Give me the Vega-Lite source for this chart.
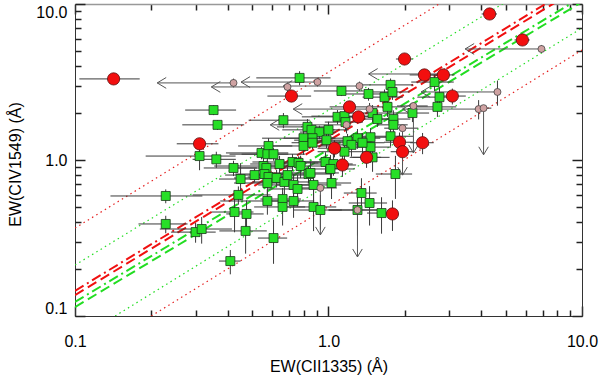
{
  "$schema": "https://vega.github.io/schema/vega-lite/v6.json",
  "width": 507,
  "height": 312,
  "autosize": "none",
  "padding": {"left": 75, "top": 4, "right": 18, "bottom": 61},
  "background": "white",
  "config": {"view": {"stroke": null}},
  "datasets": {
    "pts": [
      {"t":"g","x":0.352,"y":2.09,"xl":0.272,"xh":0.432,"yl":1.94,"yh":2.24},
      {"t":"g","x":0.365,"y":1.68,"xl":0.265,"xh":0.465,"yl":1.56,"yh":1.8},
      {"t":"g","x":0.31,"y":1.06,"xl":0.19,"xh":0.43,"yl":0.86,"yh":1.26},
      {"t":"g","x":0.361,"y":1.01,"xl":0.291,"xh":0.431,"yl":0.89,"yh":1.13},
      {"t":"g","x":0.422,"y":0.889,"xl":0.322,"xh":0.522,"yl":0.789,"yh":0.989},
      {"t":"g","x":0.45,"y":0.755,"xl":0.37,"xh":0.53,"yl":0.555,"yh":0.955},
      {"t":"g","x":0.511,"y":0.801,"xl":0.391,"xh":0.631,"yl":0.721,"yh":0.881},
      {"t":"g","x":0.664,"y":1.8,"xl":0.484,"xh":0.844,"yl":1.6,"yh":2.0},
      {"t":"g","x":0.769,"y":3.36,"xl":0.519,"xh":1.019,"yl":3.01,"yh":3.71},
      {"t":"g","x":0.544,"y":1.11,"xl":0.394,"xh":0.694,"yl":1.01,"yh":1.21},
      {"t":"g","x":0.58,"y":1.23,"xl":0.44,"xh":0.72,"yl":1.08,"yh":1.38},
      {"t":"g","x":0.574,"y":1.09,"xl":0.454,"xh":0.694,"yl":0.97,"yh":1.21},
      {"t":"g","x":0.607,"y":1.09,"xl":0.407,"xh":0.807,"yl":0.99,"yh":1.19},
      {"t":"g","x":0.554,"y":0.915,"xl":0.354,"xh":0.754,"yl":0.765,"yh":1.065},
      {"t":"g","x":0.569,"y":0.889,"xl":0.419,"xh":0.719,"yl":0.789,"yh":0.989},
      {"t":"g","x":0.559,"y":0.813,"xl":0.429,"xh":0.689,"yl":0.693,"yh":0.933},
      {"t":"g","x":0.58,"y":0.778,"xl":0.48,"xh":0.68,"yl":0.678,"yh":0.878},
      {"t":"g","x":0.574,"y":0.712,"xl":0.424,"xh":0.724,"yl":0.562,"yh":0.862},
      {"t":"g","x":0.624,"y":0.767,"xl":0.424,"xh":0.824,"yl":0.667,"yh":0.867},
      {"t":"g","x":0.641,"y":0.943,"xl":0.491,"xh":0.791,"yl":0.823,"yh":1.063},
      {"t":"g","x":0.67,"y":0.723,"xl":0.5,"xh":0.84,"yl":0.603,"yh":0.843},
      {"t":"g","x":0.689,"y":0.801,"xl":0.489,"xh":0.889,"yl":0.701,"yh":0.901},
      {"t":"g","x":0.728,"y":0.692,"xl":0.528,"xh":0.928,"yl":0.572,"yh":0.812},
      {"t":"g","x":0.755,"y":0.652,"xl":0.575,"xh":0.935,"yl":0.502,"yh":0.802},
      {"t":"g","x":0.721,"y":0.971,"xl":0.501,"xh":0.941,"yl":0.851,"yh":1.091},
      {"t":"g","x":0.762,"y":0.957,"xl":0.612,"xh":0.912,"yl":0.857,"yh":1.057},
      {"t":"g","x":0.776,"y":0.915,"xl":0.576,"xh":0.976,"yl":0.765,"yh":1.065},
      {"t":"g","x":0.834,"y":0.813,"xl":0.634,"xh":1.034,"yl":0.713,"yh":0.913},
      {"t":"g","x":0.873,"y":0.692,"xl":0.623,"xh":1.123,"yl":0.542,"yh":0.842},
      {"t":"g","x":0.873,"y":0.5,"xl":0.673,"xh":1.073,"yl":0.35,"yh":0.65},
      {"t":"g","x":0.929,"y":0.478,"xl":0.729,"xh":1.129,"yl":0.358,"yh":0.598},
      {"t":"g","x":0.728,"y":0.546,"xl":0.578,"xh":0.878,"yl":0.426,"yh":0.666},
      {"t":"g","x":0.659,"y":0.562,"xl":0.539,"xh":0.779,"yl":0.462,"yh":0.662},
      {"t":"g","x":0.659,"y":0.5,"xl":0.509,"xh":0.809,"yl":0.38,"yh":0.62},
      {"t":"g","x":0.574,"y":0.546,"xl":0.374,"xh":0.774,"yl":0.446,"yh":0.646},
      {"t":"g","x":0.441,"y":0.597,"xl":0.291,"xh":0.591,"yl":0.517,"yh":0.677},
      {"t":"g","x":0.475,"y":0.451,"xl":0.395,"xh":0.555,"yl":0.351,"yh":0.551},
      {"t":"g","x":0.426,"y":0.464,"xl":0.346,"xh":0.506,"yl":0.344,"yh":0.584},
      {"t":"g","x":0.471,"y":0.351,"xl":0.371,"xh":0.571,"yl":0.251,"yh":0.451},
      {"t":"g","x":0.299,"y":0.345,"xl":0.239,"xh":0.359,"yl":0.295,"yh":0.395},
      {"t":"g","x":0.316,"y":0.361,"xl":0.216,"xh":0.416,"yl":0.291,"yh":0.431},
      {"t":"g","x":0.607,"y":0.316,"xl":0.527,"xh":0.687,"yl":0.216,"yh":0.416},
      {"t":"g","x":0.41,"y":0.225,"xl":0.37,"xh":0.45,"yl":0.185,"yh":0.265},
      {"t":"g","x":0.228,"y":0.588,"xl":0.138,"xh":0.318,"yl":0.528,"yh":0.648},
      {"t":"g","x":0.228,"y":0.389,"xl":0.178,"xh":0.278,"yl":0.339,"yh":0.439},
      {"t":"g","x":0.826,"y":1.63,"xl":0.626,"xh":1.026,"yl":1.43,"yh":1.83},
      {"t":"g","x":0.857,"y":1.56,"xl":0.657,"xh":1.057,"yl":1.41,"yh":1.71},
      {"t":"g","x":0.921,"y":1.51,"xl":0.771,"xh":1.071,"yl":1.36,"yh":1.66},
      {"t":"g","x":1.0,"y":1.56,"xl":0.8,"xh":1.2,"yl":1.36,"yh":1.76},
      {"t":"g","x":0.797,"y":1.38,"xl":0.547,"xh":1.047,"yl":1.23,"yh":1.53},
      {"t":"g","x":0.865,"y":1.38,"xl":0.665,"xh":1.065,"yl":1.18,"yh":1.58},
      {"t":"g","x":0.982,"y":1.34,"xl":0.732,"xh":1.232,"yl":1.19,"yh":1.49},
      {"t":"g","x":0.797,"y":1.23,"xl":0.597,"xh":0.997,"yl":1.08,"yh":1.38},
      {"t":"g","x":0.865,"y":1.29,"xl":0.715,"xh":1.015,"yl":1.17,"yh":1.41},
      {"t":"g","x":1.125,"y":2.77,"xl":0.875,"xh":1.375,"yl":2.57,"yh":2.97},
      {"t":"g","x":1.438,"y":2.65,"xl":1.138,"xh":1.738,"yl":2.4,"yh":2.9},
      {"t":"g","x":1.663,"y":2.53,"xl":1.363,"xh":1.963,"yl":2.23,"yh":2.83},
      {"t":"g","x":1.709,"y":2.19,"xl":1.409,"xh":2.009,"yl":1.89,"yh":2.49},
      {"t":"g","x":1.492,"y":2.0,"xl":1.192,"xh":1.792,"yl":1.75,"yh":2.25},
      {"t":"g","x":2.144,"y":2.0,"xl":1.794,"xh":2.494,"yl":1.75,"yh":2.25},
      {"t":"g","x":1.803,"y":1.83,"xl":1.503,"xh":2.103,"yl":1.58,"yh":2.08},
      {"t":"g","x":1.803,"y":1.68,"xl":1.553,"xh":2.053,"yl":1.48,"yh":1.88},
      {"t":"g","x":1.085,"y":1.89,"xl":0.785,"xh":1.385,"yl":1.69,"yh":2.09},
      {"t":"g","x":1.156,"y":1.91,"xl":0.856,"xh":1.456,"yl":1.66,"yh":2.16},
      {"t":"g","x":1.167,"y":1.75,"xl":0.967,"xh":1.367,"yl":1.55,"yh":1.95},
      {"t":"g","x":1.56,"y":1.83,"xl":1.26,"xh":1.86,"yl":1.63,"yh":2.03},
      {"t":"g","x":1.757,"y":1.42,"xl":1.357,"xh":2.157,"yl":1.22,"yh":1.62},
      {"t":"g","x":1.465,"y":1.4,"xl":1.165,"xh":1.765,"yl":1.2,"yh":1.6},
      {"t":"g","x":1.189,"y":1.32,"xl":0.889,"xh":1.489,"yl":1.17,"yh":1.47},
      {"t":"g","x":1.301,"y":1.38,"xl":1.001,"xh":1.601,"yl":1.18,"yh":1.58},
      {"t":"g","x":1.465,"y":1.21,"xl":1.165,"xh":1.765,"yl":0.96,"yh":1.46},
      {"t":"g","x":1.492,"y":1.04,"xl":1.242,"xh":1.742,"yl":0.84,"yh":1.24},
      {"t":"g","x":1.232,"y":1.25,"xl":0.932,"xh":1.532,"yl":1.05,"yh":1.45},
      {"t":"g","x":1.362,"y":1.29,"xl":1.062,"xh":1.662,"yl":1.09,"yh":1.49},
      {"t":"g","x":1.757,"y":3.03,"xl":1.357,"xh":2.157,"yl":2.73,"yh":3.33},
      {"t":"g","x":1.788,"y":2.73,"xl":1.488,"xh":2.088,"yl":2.43,"yh":3.03},
      {"t":"g","x":2.62,"y":3.16,"xl":2.12,"xh":3.12,"yl":2.76,"yh":3.56},
      {"t":"g","x":2.74,"y":2.53,"xl":2.24,"xh":3.24,"yl":2.13,"yh":2.93},
      {"t":"g","x":2.69,"y":2.19,"xl":2.19,"xh":3.19,"yl":1.89,"yh":2.49},
      {"t":"g","x":0.973,"y":0.971,"xl":0.773,"xh":1.173,"yl":0.821,"yh":1.121},
      {"t":"g","x":1.046,"y":0.943,"xl":0.846,"xh":1.246,"yl":0.793,"yh":1.093},
      {"t":"g","x":1.018,"y":0.876,"xl":0.768,"xh":1.268,"yl":0.676,"yh":1.076},
      {"t":"g","x":1.028,"y":0.712,"xl":0.828,"xh":1.228,"yl":0.562,"yh":0.862},
      {"t":"g","x":0.849,"y":0.826,"xl":0.599,"xh":1.099,"yl":0.676,"yh":0.976},
      {"t":"g","x":1.349,"y":0.614,"xl":1.149,"xh":1.549,"yl":0.464,"yh":0.764},
      {"t":"g","x":1.452,"y":0.53,"xl":1.202,"xh":1.702,"yl":0.38,"yh":0.68},
      {"t":"g","x":1.619,"y":0.457,"xl":1.419,"xh":1.819,"yl":0.337,"yh":0.577},
      {"t":"g","x":1.837,"y":0.813,"xl":1.537,"xh":2.137,"yl":0.563,"yh":1.063},
      {"t":"g","x":1.156,"y":1.13,"xl":0.906,"xh":1.406,"yl":0.93,"yh":1.33},
      {"t":"g","x":1.301,"y":0.478,"xl":1.001,"xh":1.601,"yl":0.328,"yh":0.628},
      {"t":"r","x":0.142,"y":3.31,"xl":0.104,"xh":0.18,"yl":3.21,"yh":3.41},
      {"t":"r","x":0.31,"y":1.27,"xl":0.252,"xh":0.368,"yl":1.17,"yh":1.37},
      {"t":"r","x":0.714,"y":2.57,"xl":0.574,"xh":0.854,"yl":2.42,"yh":2.72},
      {"t":"r","x":4.32,"y":8.63,"xl":4.02,"xh":4.62,"yl":8.23,"yh":9.03},
      {"t":"r","x":5.82,"y":5.88,"xl":5.42,"xh":6.22,"yl":5.48,"yh":6.28},
      {"t":"r","x":1.995,"y":4.44,"xl":1.845,"xh":2.145,"yl":4.14,"yh":4.74},
      {"t":"r","x":2.39,"y":3.51,"xl":2.09,"xh":2.69,"yl":3.21,"yh":3.81},
      {"t":"r","x":2.84,"y":3.51,"xl":2.54,"xh":3.14,"yl":3.21,"yh":3.81},
      {"t":"r","x":3.08,"y":2.57,"xl":2.68,"xh":3.48,"yl":2.27,"yh":2.87},
      {"t":"r","x":1.21,"y":2.19,"xl":1.01,"xh":1.41,"yl":1.99,"yh":2.39},
      {"t":"r","x":1.313,"y":1.89,"xl":1.113,"xh":1.513,"yl":1.74,"yh":2.04},
      {"t":"r","x":1.056,"y":1.19,"xl":0.906,"xh":1.206,"yl":1.04,"yh":1.34},
      {"t":"r","x":1.135,"y":0.929,"xl":0.985,"xh":1.285,"yl":0.779,"yh":1.079},
      {"t":"r","x":1.413,"y":1.04,"xl":1.213,"xh":1.613,"yl":0.89,"yh":1.19},
      {"t":"r","x":1.906,"y":1.3,"xl":1.656,"xh":2.156,"yl":1.1,"yh":1.5},
      {"t":"r","x":1.959,"y":1.13,"xl":1.759,"xh":2.159,"yl":0.93,"yh":1.33},
      {"t":"r","x":2.35,"y":1.29,"xl":2.1,"xh":2.6,"yl":1.09,"yh":1.49},
      {"t":"r","x":1.788,"y":0.451,"xl":1.688,"xh":1.888,"yl":0.351,"yh":0.551}
    ],
    "lim": [
      {"dir":"l","x":0.422,"y":3.12,"a":0.211,"el":2.92,"eh":3.32},
      {"dir":"l","x":0.689,"y":2.94,"a":0.345,"el":2.74,"eh":3.14},
      {"dir":"l","x":0.905,"y":3.16,"a":0.452,"el":2.96,"eh":3.36},
      {"dir":"l","x":2.87,"y":3.56,"a":1.44,"el":3.26,"eh":3.86},
      {"dir":"l","x":4.64,"y":2.73,"a":2.32,"el":2.23,"eh":3.23},
      {"dir":"l","x":6.92,"y":5.15,"a":3.46,"el":4.85,"eh":5.45},
      {"dir":"l","x":1.452,"y":2.12,"a":0.726,"el":1.92,"eh":2.32},
      {"dir":"l","x":1.178,"y":1.68,"a":0.589,"el":1.48,"eh":1.88},
      {"dir":"l","x":3.91,"y":2.12,"a":1.96,"el":1.82,"eh":2.42},
      {"dir":"l","x":1.325,"y":2.98,"a":0.663,"el":2.78,"eh":3.18},
      {"dir":"d","x":2.163,"y":2.22,"a":1.11,"el":1.863,"eh":2.463},
      {"dir":"d","x":4.09,"y":2.15,"a":1.08,"el":3.79,"eh":4.39},
      {"dir":"d","x":0.929,"y":0.662,"a":0.331,"el":0.779,"eh":1.079},
      {"dir":"d","x":1.301,"y":0.478,"a":0.239,"el":1.001,"eh":1.601},
      {"dir":"d","x":1.959,"y":1.6,"a":0.8,"el":1.659,"eh":2.259}
    ],
    "ln": [
      {"id":"r1","x":0.1,"y":0.145},{"id":"r1","x":10,"y":13.9},
      {"id":"r2","x":0.1,"y":0.136},{"id":"r2","x":10,"y":13.0},
      {"id":"g1","x":0.1,"y":0.123},{"id":"g1","x":10,"y":11.1},
      {"id":"g2","x":0.1,"y":0.114},{"id":"g2","x":10,"y":10.3},
      {"id":"ru","x":0.1,"y":0.366},{"id":"ru","x":10,"y":36.6},
      {"id":"rl","x":0.2,"y":0.1},{"id":"rl","x":10,"y":5.07},
      {"id":"gu","x":0.1,"y":0.212},{"id":"gu","x":10,"y":20.5},
      {"id":"gl","x":0.144,"y":0.1},{"id":"gl","x":10,"y":7.02}
    ]
  },
  "resolve": {"axis": {"x":"independent","y":"independent"}},
  "layer": [
    {
      "data": {"name":"ln"},
      "transform": [{"filter":"datum.id=='r1'"}],
      "mark": {"type":"line","color":"#f01010","strokeWidth":2,"strokeDash":[10,4,2,4],"clip":true},
      "encoding": {
        "x": {"field":"x","type":"quantitative","scale":{"type":"log","domain":[0.1,10],"nice":false},
              "axis":{"orient":"bottom","values":[0.1,1,10],"format":".1f","ticks":false,"grid":false,"domain":true,"domainColor":"#333","domainWidth":1,
                      "labelFont":"Liberation Sans","labelFontSize":16,"labelColor":"#000","labelPadding":30,"labelBaseline":"alphabetic","labelFlush":false,"labelOverlap":false,
                      "title":"EW(CII1335) (Å)","titleFont":"Liberation Sans","titleFontSize":16,"titleFontWeight":"normal","titleColor":"#000","titleY":55,"titleBaseline":"alphabetic"}},
        "y": {"field":"y","type":"quantitative","scale":{"type":"log","domain":[0.1,10],"nice":false},
              "axis":{"orient":"left","values":[0.1,1,10],"format":".1f","ticks":false,"grid":false,"domain":true,"domainColor":"#333","domainWidth":1,
                      "labelFont":"Liberation Sans","labelFontSize":16,"labelColor":"#000","labelPadding":8,"labelFlush":true,"labelOverlap":false,
                      "title":"EW(CIV1549) (Å)","titleFont":"Liberation Sans","titleFontSize":16,"titleFontWeight":"normal","titleColor":"#000","titleX":-52,"titleY":160,"titleBaseline":"bottom","titleAlign":"center","titleAngle":270}}
      }
    },
    {
      "data": {"name":"ln"},
      "transform": [{"filter":"datum.id=='r2'"}],
      "mark": {"type":"line","color":"#f01010","strokeWidth":2,"strokeDash":[10,5],"clip":true},
      "encoding": {
        "x": {"field":"x","type":"quantitative","scale":{"type":"log","domain":[0.1,10],"nice":false},
              "axis":{"orient":"top","offset":-312,"values":[0.1,1,10],"labels":false,"domain":false,"title":null,"ticks":true,"tickColor":"#222","tickWidth":1.5,"tickSize":10}},
        "y": {"field":"y","type":"quantitative","scale":{"type":"log","domain":[0.1,10],"nice":false},
              "axis":{"orient":"right","offset":-507,"values":[0.1,1,10],"labels":false,"domain":false,"title":null,"ticks":true,"tickColor":"#222","tickWidth":1.5,"tickSize":10}}
      }
    },
    {
      "data": {"name":"ln"},
      "transform": [{"filter":"datum.id=='g1'"}],
      "mark": {"type":"line","color":"#22dd22","strokeWidth":2,"strokeDash":[10,4,2,4],"clip":true},
      "encoding": {
        "x": {"field":"x","type":"quantitative","scale":{"type":"log","domain":[0.1,10],"nice":false},
              "axis":{"orient":"top","offset":-312,"values":[0.2,0.3,0.4,0.5,0.6,0.7,0.8,0.9,2,3,4,5,6,7,8,9],"labels":false,"domain":false,"title":null,"ticks":true,"tickColor":"#222","tickWidth":1.5,"tickSize":6}},
        "y": {"field":"y","type":"quantitative","scale":{"type":"log","domain":[0.1,10],"nice":false},
              "axis":{"orient":"right","offset":-507,"values":[0.2,0.3,0.4,0.5,0.6,0.7,0.8,0.9,2,3,4,5,6,7,8,9],"labels":false,"domain":false,"title":null,"ticks":true,"tickColor":"#222","tickWidth":1.5,"tickSize":6}}
      }
    },
    {
      "data": {"name":"ln"},
      "transform": [{"filter":"datum.id=='g2'"}],
      "mark": {"type":"line","color":"#22dd22","strokeWidth":2,"strokeDash":[10,5],"clip":true},
      "encoding": {
        "x": {"field":"x","type":"quantitative","scale":{"type":"log","domain":[0.1,10],"nice":false},
              "axis":{"orient":"bottom","offset":-312,"values":[0.1,1,10],"labels":false,"domain":false,"title":null,"ticks":true,"tickColor":"#222","tickWidth":1.5,"tickSize":10}},
        "y": {"field":"y","type":"quantitative","scale":{"type":"log","domain":[0.1,10],"nice":false},
              "axis":{"orient":"left","offset":-507,"values":[0.1,1,10],"labels":false,"domain":false,"title":null,"ticks":true,"tickColor":"#222","tickWidth":1.5,"tickSize":10}}
      }
    },
    {
      "data": {"name":"ln"},
      "transform": [{"filter":"datum.id=='ru'"}],
      "mark": {"type":"line","color":"#e52020","strokeWidth":1.2,"strokeDash":[1.5,3.5],"clip":true},
      "encoding": {
        "x": {"field":"x","type":"quantitative","scale":{"type":"log","domain":[0.1,10],"nice":false},
              "axis":{"orient":"bottom","offset":-312,"values":[0.2,0.3,0.4,0.5,0.6,0.7,0.8,0.9,2,3,4,5,6,7,8,9],"labels":false,"domain":false,"title":null,"ticks":true,"tickColor":"#222","tickWidth":1.5,"tickSize":6}},
        "y": {"field":"y","type":"quantitative","scale":{"type":"log","domain":[0.1,10],"nice":false},
              "axis":{"orient":"left","offset":-507,"values":[0.2,0.3,0.4,0.5,0.6,0.7,0.8,0.9,2,3,4,5,6,7,8,9],"labels":false,"domain":false,"title":null,"ticks":true,"tickColor":"#222","tickWidth":1.5,"tickSize":6}}
      }
    },
    {
      "data": {"name":"ln"},
      "transform": [{"filter":"datum.id=='rl'"}],
      "mark": {"type":"line","color":"#e52020","strokeWidth":1.2,"strokeDash":[1.5,3.5],"clip":true},
      "encoding": {
        "x": {"field":"x","type":"quantitative","scale":{"type":"log","domain":[0.1,10],"nice":false},
              "axis":{"orient":"top","values":[0.1,10],"labels":false,"ticks":false,"domain":true,"domainColor":"#999","domainWidth":1.5,"title":null}},
        "y": {"field":"y","type":"quantitative","scale":{"type":"log","domain":[0.1,10],"nice":false},
              "axis":{"orient":"right","values":[0.1,10],"labels":false,"ticks":false,"domain":true,"domainColor":"#333","domainWidth":1,"title":null}}
      }
    },
    {
      "data": {"name":"ln"},
      "transform": [{"filter":"datum.id=='gu'"}],
      "mark": {"type":"line","color":"#22dd22","strokeWidth":1.2,"strokeDash":[1.5,3.5],"clip":true},
      "encoding": {
        "x": {"field":"x","type":"quantitative","scale":{"type":"log","domain":[0.1,10],"nice":false},"axis":null},
        "y": {"field":"y","type":"quantitative","scale":{"type":"log","domain":[0.1,10],"nice":false},"axis":null}
      }
    },
    {
      "data": {"name":"ln"},
      "transform": [{"filter":"datum.id=='gl'"}],
      "mark": {"type":"line","color":"#22dd22","strokeWidth":1.2,"strokeDash":[1.5,3.5],"clip":true},
      "encoding": {
        "x": {"field":"x","type":"quantitative","scale":{"type":"log","domain":[0.1,10],"nice":false},"axis":null},
        "y": {"field":"y","type":"quantitative","scale":{"type":"log","domain":[0.1,10],"nice":false},"axis":null}
      }
    },
    {
      "data": {"name":"pts"},
      "mark": {"type":"rule","color":"#3a3a3a","strokeWidth":1},
      "encoding": {
        "x": {"field":"xl","type":"quantitative","scale":{"type":"log","domain":[0.1,10],"nice":false},"axis":null},
        "x2": {"field":"xh"},
        "y": {"field":"y","type":"quantitative","scale":{"type":"log","domain":[0.1,10],"nice":false},"axis":null}
      }
    },
    {
      "data": {"name":"pts"},
      "mark": {"type":"rule","color":"#3a3a3a","strokeWidth":1},
      "encoding": {
        "x": {"field":"x","type":"quantitative","scale":{"type":"log","domain":[0.1,10],"nice":false},"axis":null},
        "y": {"field":"yl","type":"quantitative","scale":{"type":"log","domain":[0.1,10],"nice":false},"axis":null},
        "y2": {"field":"yh"}
      }
    },
    {
      "data": {"name":"lim"},
      "transform": [{"filter":"datum.dir=='l'"}],
      "mark": {"type":"rule","color":"#3a3a3a","strokeWidth":1},
      "encoding": {
        "x": {"field":"x","type":"quantitative","scale":{"type":"log","domain":[0.1,10],"nice":false},"axis":null},
        "y": {"field":"el","type":"quantitative","scale":{"type":"log","domain":[0.1,10],"nice":false},"axis":null},
        "y2": {"field":"eh"}
      }
    },
    {
      "data": {"name":"lim"},
      "transform": [{"filter":"datum.dir=='d'"}],
      "mark": {"type":"rule","color":"#3a3a3a","strokeWidth":1},
      "encoding": {
        "x": {"field":"el","type":"quantitative","scale":{"type":"log","domain":[0.1,10],"nice":false},"axis":null},
        "x2": {"field":"eh"},
        "y": {"field":"y","type":"quantitative","scale":{"type":"log","domain":[0.1,10],"nice":false},"axis":null}
      }
    },
    {
      "data": {"name":"lim"},
      "transform": [{"filter":"datum.dir=='l'"}],
      "mark": {"type":"rule","color":"#555","strokeWidth":1},
      "encoding": {
        "x": {"field":"a","type":"quantitative","scale":{"type":"log","domain":[0.1,10],"nice":false},"axis":null},
        "x2": {"field":"x"},
        "y": {"field":"y","type":"quantitative","scale":{"type":"log","domain":[0.1,10],"nice":false},"axis":null}
      }
    },
    {
      "data": {"name":"lim"},
      "transform": [{"filter":"datum.dir=='d'"}],
      "mark": {"type":"rule","color":"#555","strokeWidth":1},
      "encoding": {
        "x": {"field":"x","type":"quantitative","scale":{"type":"log","domain":[0.1,10],"nice":false},"axis":null},
        "y": {"field":"y","type":"quantitative","scale":{"type":"log","domain":[0.1,10],"nice":false},"axis":null},
        "y2": {"field":"a"}
      }
    },
    {
      "data": {"name":"lim"},
      "transform": [{"filter":"datum.dir=='l'"}],
      "mark": {"type":"point","shape":"M1,-0.6L0,0L1,0.6","size":324,"filled":false,"stroke":"#555","strokeWidth":1,"opacity":1},
      "encoding": {
        "x": {"field":"a","type":"quantitative","scale":{"type":"log","domain":[0.1,10],"nice":false},"axis":null},
        "y": {"field":"y","type":"quantitative","scale":{"type":"log","domain":[0.1,10],"nice":false},"axis":null}
      }
    },
    {
      "data": {"name":"lim"},
      "transform": [{"filter":"datum.dir=='d'"}],
      "mark": {"type":"point","shape":"M-0.6,-1L0,0L0.6,-1","size":256,"filled":false,"stroke":"#555","strokeWidth":1,"opacity":1},
      "encoding": {
        "x": {"field":"x","type":"quantitative","scale":{"type":"log","domain":[0.1,10],"nice":false},"axis":null},
        "y": {"field":"a","type":"quantitative","scale":{"type":"log","domain":[0.1,10],"nice":false},"axis":null}
      }
    },
    {
      "data": {"name":"pts"},
      "transform": [{"filter":"datum.t=='g'"}],
      "mark": {"type":"point","shape":"square","size":81,"filled":true,"fill":"#27df27","stroke":"#1c3a1c","strokeWidth":0.8,"opacity":1},
      "encoding": {
        "x": {"field":"x","type":"quantitative","scale":{"type":"log","domain":[0.1,10],"nice":false},"axis":null},
        "y": {"field":"y","type":"quantitative","scale":{"type":"log","domain":[0.1,10],"nice":false},"axis":null}
      }
    },
    {
      "data": {"name":"lim"},
      "mark": {"type":"point","shape":"circle","size":49,"filled":true,"fill":"#cfa2a2","stroke":"#444","strokeWidth":0.8,"opacity":1},
      "encoding": {
        "x": {"field":"x","type":"quantitative","scale":{"type":"log","domain":[0.1,10],"nice":false},"axis":null},
        "y": {"field":"y","type":"quantitative","scale":{"type":"log","domain":[0.1,10],"nice":false},"axis":null}
      }
    },
    {
      "data": {"name":"pts"},
      "transform": [{"filter":"datum.t=='r'"}],
      "mark": {"type":"point","shape":"circle","size":150,"filled":true,"fill":"#f20f0f","stroke":"#5a1010","strokeWidth":0.8,"opacity":1},
      "encoding": {
        "x": {"field":"x","type":"quantitative","scale":{"type":"log","domain":[0.1,10],"nice":false},"axis":null},
        "y": {"field":"y","type":"quantitative","scale":{"type":"log","domain":[0.1,10],"nice":false},"axis":null}
      }
    }
  ]
}
